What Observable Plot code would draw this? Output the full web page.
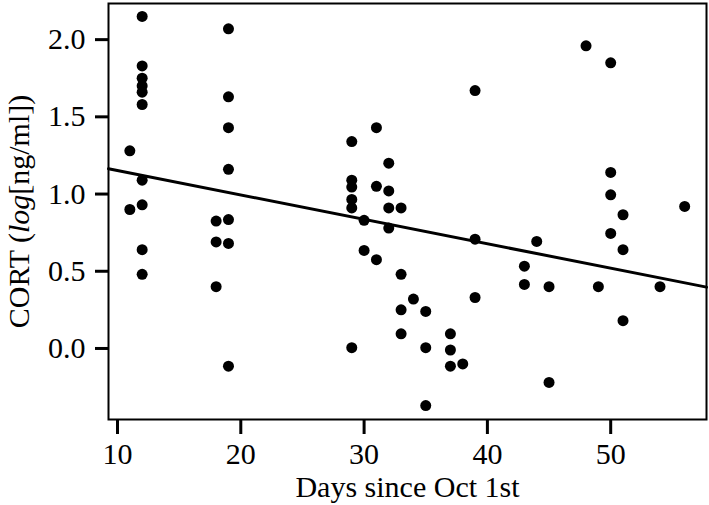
<!DOCTYPE html>
<html>
<head>
<meta charset="utf-8">
<script src="https://cdn.jsdelivr.net/npm/d3@7"></script>
<script src="https://cdn.jsdelivr.net/npm/@observablehq/plot@0.6"></script>
<style>
  html, body { margin: 0; padding: 0; background: #fff; }
</style>
</head>
<body>
<div id="chart"></div>
<script>
// Days since Oct 1st for each sample
const days = [
  11, 11,
  12, 12, 12, 12, 12, 12, 12, 12, 12, 12,
  18, 18, 18,
  19, 19, 19, 19, 19, 19, 19,
  29, 29, 29, 29, 29, 29,
  30, 30,
  31, 31, 31,
  32, 32, 32, 32,
  33, 33, 33, 33,
  34,
  35, 35, 35,
  37, 37, 37,
  38,
  39, 39, 39,
  43, 43,
  44,
  45, 45,
  48,
  49,
  50, 50, 50, 50,
  51, 51, 51,
  54,
  56
];
// CORT (log ng/ml)
const cort = [
  1.28, 0.90,
  2.15, 1.83, 1.75, 1.70, 1.66, 1.58, 1.09, 0.93, 0.64, 0.48,
  0.825, 0.69, 0.40,
  2.07, 1.63, 1.43, 1.16, 0.835, 0.68, -0.115,
  1.34, 1.09, 1.045, 0.965, 0.91, 0.005,
  0.83, 0.635,
  1.43, 1.05, 0.575,
  1.20, 1.02, 0.91, 0.78,
  0.91, 0.48, 0.25, 0.095,
  0.32,
  0.24, 0.005, -0.37,
  0.095, -0.01, -0.115,
  -0.10,
  1.67, 0.708, 0.33,
  0.533, 0.415,
  0.693,
  0.40, -0.22,
  1.96,
  0.40,
  1.85, 1.14, 0.995, 0.745,
  0.866, 0.64, 0.18,
  0.40,
  0.92
];
const xTicks = [10, 20, 30, 40, 50];
const yTicks = [0, 0.5, 1.0, 1.5, 2.0];
// fitted regression line: cort = fitIntercept + fitSlope * (day - 10)
const fitIntercept = 1.152;
const fitSlope = -0.0158;

const xDomain = [9.27, 57.77];
const yDomain = [-0.46, 2.234];

const points = days.map((d, i) => ({day: d, cort: cort[i]}));
const fitLine = xDomain.map(d => ({day: d, cort: fitIntercept + fitSlope * (d - 10)}));

const chart = Plot.plot({
  width: 709,
  height: 505,
  marginLeft: 108,
  marginRight: 3,
  marginTop: 3,
  marginBottom: 86,
  style: {fontFamily: "'Liberation Serif', serif", fontSize: "30px", color: "#000", background: "#fff"},
  x: {domain: xDomain},
  y: {domain: yDomain},
  marks: [
    Plot.frame({stroke: "#000", strokeWidth: 2}),
    Plot.axisX({ticks: xTicks, tickSize: 15, tickPadding: 8, strokeWidth: 3,
      label: "Days since Oct 1st", labelArrow: "none", labelAnchor: "center", labelOffset: 77}),
    Plot.axisY({ticks: yTicks, tickSize: 13, tickPadding: 10, strokeWidth: 3,
      tickFormat: d3.format(".1f"),
      label: "CORT (log[ng/ml])", labelArrow: "none", labelAnchor: "center", labelOffset: 101}),
    Plot.dot(points, {x: "day", y: "cort", r: 5.5, fill: "#000", stroke: "none"}),
    Plot.line(fitLine, {x: "day", y: "cort", stroke: "#000", strokeWidth: 3})
  ]
});

// italicise "log" in the y-axis label
d3.select(chart).selectAll("text").each(function() {
  if (this.textContent.startsWith("CORT (log")) {
    const t = d3.select(this);
    t.text(null);
    t.append("tspan").text("CORT (");
    t.append("tspan").attr("font-style", "italic").text("log");
    t.append("tspan").text("[ng/ml])");
  }
});

document.getElementById("chart").appendChild(chart);
</script>
</body>
</html>
